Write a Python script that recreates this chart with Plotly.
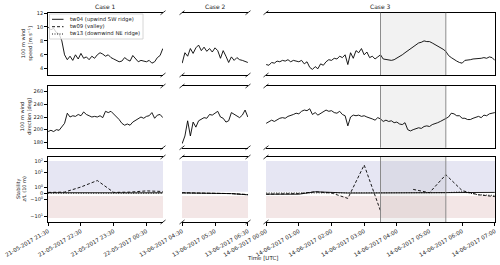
import numpy as np
import pandas as pd
import plotly.graph_objects as go
from plotly.subplots import make_subplots

W, H = 500, 265

# ---------------- data ----------------
CASE_TITLES = ["Case 1", "Case 2", "Case 3"]
CASE_START = ["2017-05-21 21:30", "2017-06-13 04:30", "2017-06-14 00:00"]
CASE_END = ["2017-05-22 01:00", "2017-06-13 06:30", "2017-06-14 07:00"]

SERIES_NAMES = ["tw04 (upwind SW ridge)", "tw09 (valley)", "tw13 (downwind NE ridge)"]

# 100 m wind speed (tw04), 5-min values
SPEED_C1 = [10.0, 9.6, 9.8, 9.2, 9.0, 8.0, 6.0, 5.3, 5.8, 5.2, 6.0, 5.4, 6.2, 5.5, 5.7,
            5.3, 5.8, 5.5, 6.0, 6.3, 6.1, 5.8, 6.0, 5.6, 5.4, 5.2, 5.0, 5.1, 5.6, 5.3,
            5.1, 5.9, 5.4, 5.0, 5.2, 5.1, 5.0, 5.2, 4.8, 5.0, 5.6, 5.9, 6.9]
SPEED_C2 = [4.8, 6.3, 5.8, 6.9, 6.2, 7.0, 7.4, 6.6, 7.1, 6.5, 6.9, 6.4, 7.0, 6.6, 5.5,
            6.6, 5.8, 4.9, 5.7, 5.2, 5.6, 5.3, 5.2, 5.0, 4.9]
SPEED_C3 = [4.6, 4.5, 4.9, 4.8, 5.1, 5.0, 5.2, 5.1, 5.3, 5.0, 5.2, 5.1, 5.0, 5.2, 4.7,
            5.0, 4.2, 3.9, 4.3, 4.0, 4.7, 4.5, 5.0, 5.3, 5.2, 5.5, 5.4, 5.8, 5.6, 6.0,
            4.6, 6.3, 5.5, 6.6, 6.3, 6.9, 6.0, 6.4, 5.6, 5.8, 5.4, 5.7, 6.0, 5.4, 5.3,
            5.3, 5.2, 5.3, 5.5, 5.7, 6.0, 6.3, 6.6, 6.9, 7.2, 7.4, 7.7, 7.8, 8.0, 7.9,
            7.9, 7.7, 7.5, 7.3, 7.0, 6.8, 6.5, 5.9, 5.6, 5.3, 5.1, 4.9, 4.8, 5.2, 5.2,
            5.3, 5.4, 5.4, 5.5, 5.5, 5.6, 5.5, 5.7, 5.6, 5.2]

# 100 m wind direction (tw04), 5-min values
DIR_C1 = [197, 199, 197, 200, 199, 205, 210, 226, 220, 222, 221, 224, 222, 228, 224,
          222, 220, 221, 220, 222, 219, 229, 227, 229, 225, 220, 216, 210, 207, 209,
          207, 212, 215, 218, 220, 218, 221, 222, 227, 218, 223, 224, 219]
DIR_C2 = [178, 190, 214, 190, 212, 204, 214, 216, 219, 218, 224, 223, 226, 229, 220,
          218, 212, 214, 227, 224, 221, 219, 223, 231, 220]
DIR_C3 = [210, 212, 215, 213, 216, 218, 219, 218, 221, 222, 224, 226, 225, 229, 231,
          230, 233, 224, 227, 223, 226, 228, 231, 229, 230, 227, 226, 229, 224, 222,
          206, 220, 223, 222, 223, 221, 222, 220, 219, 217, 215, 219, 217, 213, 215,
          213, 214, 211, 212, 209, 208, 211, 200, 198, 200, 201, 203, 202, 205, 206,
          205, 208, 209, 211, 213, 215, 217, 220, 226, 225, 222, 222, 218, 218, 216,
          216, 218, 220, 221, 219, 223, 222, 225, 226, 227]

# Stability z/L (10 m), 30-min values
STAB_TW04 = [
    [0.05, 0.02, 0.03, 0.05, 0.04, 0.03, 0.05, 0.04],
    [0.02, 0.0, 0.0, -0.1, -0.3],
    [-0.2, -0.25, -0.2, 0.2, 0.05, 0.0, 0.0, 0.0, 0.0, 0.0, 0.0, 0.1, 0.1, 0.05, 0.1],
]
STAB_TW09 = [
    [0.1, 0.15, 1.0, 2.8, 0.1, 0.15, 0.35, 0.25],
    [0.05, 0.03, 0.0, -0.1, -0.25],
    [-0.2, -0.1, -0.1, 0.2, 0.0, -0.9, 45, -5, None, 0.6, 0.05, 7, 0.4, -0.3, -0.6],
]
STAB_TW13 = [
    [-0.05, -0.05, -0.03, -0.05, -0.04, -0.05, -0.02, -0.05],
    [0.0, -0.02, -0.05, -0.1, -0.3],
    [0.0, 0.0, 0.05, 0.1, 0.05, 0.0, 0.0, 0.0, 0.0, 0.0, 0.0, 0.05, 0.2, -0.3, -0.4],
]

STABLE_BAND = [0.2, 100]
UNSTABLE_BAND = [-13, -0.5]
SHADE_SPAN = ["2017-06-14 03:30", "2017-06-14 05:30"]

TICKS = [
    ["2017-05-21 21:30", "2017-05-21 22:30", "2017-05-21 23:30", "2017-05-22 00:30"],
    ["2017-06-13 04:30", "2017-06-13 05:30", "2017-06-13 06:30"],
    ["2017-06-14 00:00", "2017-06-14 01:00", "2017-06-14 02:00", "2017-06-14 03:00",
     "2017-06-14 04:00", "2017-06-14 05:00", "2017-06-14 06:00", "2017-06-14 07:00"],
]
SPEED_TICKS = [4, 6, 8, 10, 12]
DIR_TICKS = [180, 200, 220, 240, 260]
STAB_TICKS = [100, 10, 1, 0, -1, -10]
STAB_TICKTEXT = ["10<sup>2</sup>", "10<sup>1</sup>", "10<sup>0</sup>", "0",
                 "\u221210<sup>0</sup>", "\u221210<sup>1</sup>"]

# ---------------- stability scale (symlog-like) ----------------
SYM_U = [-3, -2, -1, 0, 1, 2, 3]
SYM_POS = [-11, 6, 23, 29, 35, 49.5, 61]


def stab_pos(vals):
    arr = np.array([np.nan if v is None else v for v in vals], dtype=float)
    a = np.abs(arr)
    u = np.where(a < 1, arr, np.sign(arr) * (1 + np.log10(np.maximum(a, 1e-12))))
    out = np.interp(np.nan_to_num(u), SYM_U, SYM_POS)
    return [None if np.isnan(x) else float(p) for x, p in zip(arr, out)]


# ---------------- layout geometry (pixels) ----------------
COL_X = [(48, 163), (182, 248), (266, 495)]
ROW_Y = [(12.7, 75), (86, 147.7), (157, 222)]


def px(x):
    return x / W


def py(y):
    return 1 - y / H


FONT = "DejaVu Sans"
TXT = "#222222"
fig = make_subplots(rows=3, cols=3)

dashes = ["solid", "3px,2px", "1px,1.5px"]

for c in range(3):
    t5 = pd.date_range(CASE_START[c], CASE_END[c], freq="5min")
    t30 = pd.date_range(CASE_START[c], CASE_END[c], freq="30min")
    speed = [SPEED_C1, SPEED_C2, SPEED_C3][c]
    direc = [DIR_C1, DIR_C2, DIR_C3][c]
    fig.add_trace(go.Scatter(x=t5, y=speed, mode="lines", line=dict(color="black", width=0.9),
                             showlegend=False), row=1, col=c + 1)
    fig.add_trace(go.Scatter(x=t5, y=direc, mode="lines", line=dict(color="black", width=0.9),
                             showlegend=False), row=2, col=c + 1)
    for k, st in enumerate([STAB_TW04, STAB_TW09, STAB_TW13]):
        fig.add_trace(go.Scatter(x=t30, y=stab_pos(st[c]), mode="lines", connectgaps=False,
                                 line=dict(color="black", width=0.9, dash=dashes[k]),
                                 showlegend=False), row=3, col=c + 1)

ranges_y = [[3.1, 12.05], [171.5, 269], [0, 65]]
shapes = []
annotations = []

for r in range(3):
    for c in range(3):
        idx = r * 3 + c + 1
        xs = "" if idx == 1 else str(idx)
        x0p, x1p = COL_X[c]
        y0p, y1p = ROW_Y[r]
        start = pd.Timestamp(CASE_START[c]) - pd.Timedelta(seconds=20)
        end = pd.Timestamp(CASE_END[c]) + pd.Timedelta(seconds=20)
        xa = dict(domain=[px(x0p), px(x1p)], range=[start, end], showline=True, mirror=True,
                  linecolor="black", linewidth=0.8, showgrid=False, zeroline=False,
                  automargin=False)
        if r == 2:
            xa.update(tickmode="array", tickvals=TICKS[c],
                      ticktext=[pd.Timestamp(t).strftime("%d-%m-%Y %H:%M") for t in TICKS[c]],
                      ticks="outside", ticklen=3, tickwidth=0.8, tickcolor="black",
                      tickangle=-30, tickfont=dict(family=FONT, size=5.5, color=TXT))
        else:
            xa.update(showticklabels=False, ticks="")
        ya = dict(domain=[py(y1p), py(y0p)], range=ranges_y[r], showgrid=False, zeroline=False,
                  automargin=False)
        if c == 0:
            ya.update(showline=True, linecolor="black", linewidth=0.8, ticks="outside", ticklen=3,
                      tickwidth=0.8, tickcolor="black",
                      tickfont=dict(family=FONT, size=5, color=TXT))
            if r == 0:
                ya.update(tickmode="array", tickvals=SPEED_TICKS)
            elif r == 1:
                ya.update(tickmode="array", tickvals=DIR_TICKS)
            else:
                ya.update(tickmode="array", tickvals=stab_pos(STAB_TICKS), ticktext=STAB_TICKTEXT)
        elif c == 1:
            ya.update(showline=False, showticklabels=False, ticks="")
        else:
            ya.update(showline=True, side="right", linecolor="black", linewidth=0.8,
                      showticklabels=False, ticks="")
        fig.layout["xaxis" + xs].update(xa)
        fig.layout["yaxis" + xs].update(ya)

        # stability bands
        if r == 2:
            sb = stab_pos(STABLE_BAND)
            ub = stab_pos(UNSTABLE_BAND)
            shapes.append(dict(type="rect", xref=f"x{xs} domain", yref=f"y{xs}", x0=0, x1=1,
                               y0=sb[0], y1=sb[1], fillcolor="#e6e6f3", line=dict(width=0),
                               layer="below"))
            shapes.append(dict(type="rect", xref=f"x{xs} domain", yref=f"y{xs}", x0=0, x1=1,
                               y0=ub[0], y1=ub[1], fillcolor="#f3e6e6", line=dict(width=0),
                               layer="below"))
        # shaded span in case 3
        if c == 2:
            shapes.append(dict(type="rect", xref=f"x{xs}", yref=f"y{xs} domain",
                               x0=SHADE_SPAN[0], x1=SHADE_SPAN[1], y0=0, y1=1,
                               fillcolor="rgba(128,128,128,0.1)", line=dict(width=0),
                               layer="below"))
            for t in SHADE_SPAN:
                shapes.append(dict(type="line", xref=f"x{xs}", yref=f"y{xs} domain",
                                   x0=t, x1=t, y0=0, y1=1,
                                   line=dict(color="#808080", width=0.9)))

        # break marks
        if c == 0:
            edges = [x1p]
        elif c == 1:
            edges = [x0p, x1p]
        else:
            edges = [x0p]
        for ex in edges:
            for ey in (y0p, y1p):
                shapes.append(dict(type="line", xref="paper", yref="paper",
                                   x0=px(ex - 2.5), y0=py(ey + 2), x1=px(ex + 2.5), y1=py(ey - 2),
                                   line=dict(color="black", width=0.8)))

# case titles
for c in range(3):
    annotations.append(dict(text=CASE_TITLES[c], x=px((COL_X[c][0] + COL_X[c][1]) / 2),
                            y=py(6.5), xref="paper", yref="paper", showarrow=False,
                            xanchor="center", yanchor="middle",
                            font=dict(family=FONT, size=6, color=TXT)))

# y titles
YTITLES = ["100 m wind<br>speed [m s<sup>\u22121</sup>]", "100 m wind<br>direction [deg]",
           "Stability<br><i>z/L</i> (10 m)"]
YTITLE_X = [27, 26, 21]
for r in range(3):
    annotations.append(dict(text=YTITLES[r], x=px(YTITLE_X[r]), y=py(sum(ROW_Y[r]) / 2),
                            xref="paper", yref="paper", showarrow=False, textangle=-90,
                            xanchor="center", yanchor="middle",
                            font=dict(family=FONT, size=5, color=TXT)))

annotations.append(dict(text="Time [UTC]", x=px(262), y=py(258), xref="paper", yref="paper",
                        showarrow=False, xanchor="center", yanchor="middle",
                        font=dict(family=FONT, size=5.5, color=TXT)))

# legend (drawn manually)
shapes.append(dict(type="rect", xref="paper", yref="paper", x0=px(49.5), x1=px(143),
                   y0=py(39), y1=py(14), fillcolor="rgba(255,255,255,0.8)",
                   line=dict(color="#cccccc", width=0.8)))
LEG_Y = [19.3, 26.7, 34]
for k in range(3):
    shapes.append(dict(type="line", xref="paper", yref="paper", x0=px(52), x1=px(63.5),
                       y0=py(LEG_Y[k]), y1=py(LEG_Y[k]),
                       line=dict(color="black", width=0.9, dash=dashes[k])))
    annotations.append(dict(text=SERIES_NAMES[k], x=px(68), y=py(LEG_Y[k]), xref="paper",
                            yref="paper", showarrow=False, xanchor="left", yanchor="middle",
                            font=dict(family=FONT, size=5.3, color=TXT)))

fig.update_layout(template="none", width=W, height=H, margin=dict(l=0, r=0, t=0, b=0),
                  paper_bgcolor="white", plot_bgcolor="white", showlegend=False,
                  shapes=shapes, annotations=annotations, hovermode=False,
                  font=dict(family=FONT, size=5, color=TXT))

fig.write_html("out.html", config={"displayModeBar": False},
               post_script="document.body.style.margin='0px';document.body.style.padding='0px';")
